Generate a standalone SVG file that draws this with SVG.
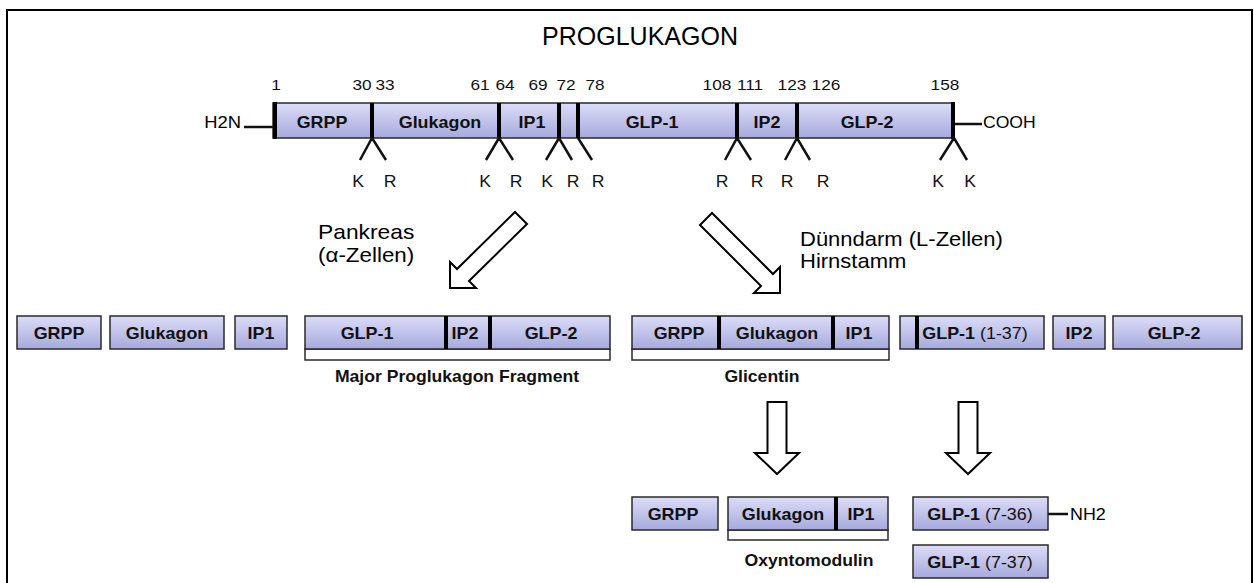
<svg xmlns="http://www.w3.org/2000/svg" width="1254" height="583" viewBox="0 0 1254 583">
<defs>
<linearGradient id="g" x1="0" y1="0" x2="0" y2="1">
<stop offset="0" stop-color="#dcdcf8"/>
<stop offset="1" stop-color="#a6aadc"/>
</linearGradient>
<style>
.t{font-family:"Liberation Sans",Arial,sans-serif;fill:#000}
.b{font-family:"Liberation Sans",Arial,sans-serif;font-weight:bold;font-size:16px;text-anchor:middle;fill:#111}
.n{font-family:"Liberation Sans",Arial,sans-serif;font-size:15px;text-anchor:middle;fill:#111}
.k{font-family:"Liberation Sans",Arial,sans-serif;font-size:16px;text-anchor:middle;fill:#111}
.box{fill:url(#g);stroke:#2a2a2a;stroke-width:1.5}
.br{fill:#fff;stroke:#2a2a2a;stroke-width:1.5}
.dv{stroke:#000;stroke-width:4}
.ln{stroke:#111;stroke-width:2.5;fill:none}
.arr{fill:#fff;stroke:#000;stroke-width:2;stroke-linejoin:miter}
.nw{font-weight:normal}
</style>
</defs>
<rect width="1254" height="583" fill="#fff"/>
<path d="M7 585V10H1252V585" fill="none" stroke="#000" stroke-width="2"/>
<text class="t" x="640" y="45" font-size="25" text-anchor="middle">PROGLUKAGON</text>

<g id="proglukagon">
<line class="ln" x1="244" y1="127" x2="273" y2="127" stroke-width="2"/>
<line class="ln" x1="955" y1="124" x2="982" y2="124" stroke-width="2"/>
<text class="t" font-size="16" text-anchor="end" transform="translate(241 128) scale(1.15 1)">H2N</text>
<text class="t" font-size="16" transform="translate(983 128) scale(1.1 1)">COOH</text>
<rect class="box" x="273" y="103" width="681" height="35"/>
<line class="dv" x1="275" y1="102" x2="275" y2="139"/>
<line class="dv" x1="953" y1="102" x2="953" y2="139"/>
<line class="dv" x1="372" y1="103" x2="372" y2="138"/>
<line class="dv" x1="499" y1="103" x2="499" y2="138"/>
<line class="dv" x1="559" y1="103" x2="559" y2="138"/>
<line class="dv" x1="578" y1="103" x2="578" y2="138" stroke-width="2"/>
<line class="dv" x1="737" y1="103" x2="737" y2="138"/>
<line class="dv" x1="797" y1="103" x2="797" y2="138"/>
<text class="b" transform="translate(322 128) scale(1.12 1)">GRPP</text>
<text class="b" transform="translate(440 128) scale(1.12 1)">Glukagon</text>
<text class="b" transform="translate(532 128) scale(1.12 1)">IP1</text>
<text class="b" transform="translate(652 128) scale(1.12 1)">GLP-1</text>
<text class="b" transform="translate(767 128) scale(1.12 1)">IP2</text>
<text class="b" transform="translate(867 128) scale(1.12 1)">GLP-2</text>
<g>
<text class="n" transform="translate(276 90) scale(1.15 1)">1</text>
<text class="n" transform="translate(362 90) scale(1.15 1)">30</text>
<text class="n" transform="translate(385 90) scale(1.15 1)">33</text>
<text class="n" transform="translate(480 90) scale(1.15 1)">61</text>
<text class="n" transform="translate(505 90) scale(1.15 1)">64</text>
<text class="n" transform="translate(538 90) scale(1.15 1)">69</text>
<text class="n" transform="translate(566 90) scale(1.15 1)">72</text>
<text class="n" transform="translate(595 90) scale(1.15 1)">78</text>
<text class="n" transform="translate(717 90) scale(1.15 1)">108</text>
<text class="n" transform="translate(750 90) scale(1.15 1)">111</text>
<text class="n" transform="translate(792 90) scale(1.15 1)">123</text>
<text class="n" transform="translate(826 90) scale(1.15 1)">126</text>
<text class="n" transform="translate(945 90) scale(1.15 1)">158</text>
</g>
</g>

<g id="cleavage-sites">
<path class="ln" d="M360 160L372 138L386 160M486 160L499 138L513 160M546 160L559 138L572 160M578 138L592 160M725 160L737 138L751 160M785 160L797 138L810 160M940 160L954 138L967 160"/>
<g>
<text class="k" transform="translate(358 187) scale(1.1 1)">K</text>
<text class="k" transform="translate(390 187) scale(1.1 1)">R</text>
<text class="k" transform="translate(485 187) scale(1.1 1)">K</text>
<text class="k" transform="translate(516 187) scale(1.1 1)">R</text>
<text class="k" transform="translate(547 187) scale(1.1 1)">K</text>
<text class="k" transform="translate(573 187) scale(1.1 1)">R</text>
<text class="k" transform="translate(598 187) scale(1.1 1)">R</text>
<text class="k" transform="translate(722 187) scale(1.1 1)">R</text>
<text class="k" transform="translate(757 187) scale(1.1 1)">R</text>
<text class="k" transform="translate(787 187) scale(1.1 1)">R</text>
<text class="k" transform="translate(823 187) scale(1.1 1)">R</text>
<text class="k" transform="translate(938 187) scale(1.1 1)">K</text>
<text class="k" transform="translate(970 187) scale(1.1 1)">K</text>
</g>
</g>

<g id="connectors">
<polygon class="arr" points="450,288 450,262 457,269 515,212 527,224 469,281 476,288"/>
<polygon class="arr" points="780,293 780,267 773,274 712,213 700,225 761,286 754,293"/>
<polygon class="arr" points="767.5,402 786.5,402 786.5,453 799,453 777,474 755,453 767.5,453"/>
<polygon class="arr" points="958.5,402 977.5,402 977.5,453 990,453 968,474 946,453 958.5,453"/>
</g>

<g id="route-labels">
<text class="t" font-size="20" transform="translate(318 239) scale(1.14 1)">Pankreas</text>
<text class="t" font-size="20" transform="translate(318 262) scale(1.12 1)">(α-Zellen)</text>
<text class="t" font-size="20" transform="translate(800 246) scale(1.1 1)">Dünndarm (L-Zellen)</text>
<text class="t" font-size="20" transform="translate(800 268) scale(1.1 1)">Hirnstamm</text>
</g>

<g id="p-grpp">
<rect class="box" x="17" y="316" width="84" height="33"/>
<text class="b" transform="translate(59 339) scale(1.12 1)">GRPP</text>
</g>
<g id="p-glukagon">
<rect class="box" x="110" y="316" width="114" height="33"/>
<text class="b" transform="translate(167 339) scale(1.12 1)">Glukagon</text>
</g>
<g id="p-ip1">
<rect class="box" x="235" y="316" width="52" height="33"/>
<text class="b" transform="translate(261 339) scale(1.12 1)">IP1</text>
</g>
<g id="mpgf">
<rect class="br" x="305" y="349" width="305" height="11"/>
<rect class="box" x="305" y="316" width="305" height="33"/>
<line class="dv" x1="446" y1="316" x2="446" y2="349" stroke-width="3.5"/>
<line class="dv" x1="490" y1="316" x2="490" y2="349" stroke-width="3.5"/>
<text class="b" transform="translate(367 339) scale(1.12 1)">GLP-1</text>
<text class="b" transform="translate(465 339) scale(1.12 1)">IP2</text>
<text class="b" transform="translate(551 339) scale(1.12 1)">GLP-2</text>
<text class="b" transform="translate(457 382) scale(1.1 1)">Major Proglukagon Fragment</text>
</g>
<g id="glicentin">
<rect class="br" x="632" y="349" width="257" height="11"/>
<rect class="box" x="632" y="316" width="257" height="33"/>
<line class="dv" x1="719" y1="316" x2="719" y2="349" stroke-width="3.5"/>
<line class="dv" x1="833" y1="316" x2="833" y2="349" stroke-width="3.5"/>
<text class="b" transform="translate(679 339) scale(1.12 1)">GRPP</text>
<text class="b" transform="translate(777 339) scale(1.12 1)">Glukagon</text>
<text class="b" transform="translate(859 339) scale(1.12 1)">IP1</text>
<text class="b" transform="translate(762 382) scale(1.1 1)">Glicentin</text>
</g>
<g id="glp1-1-37">
<rect class="box" x="900" y="316" width="144" height="33"/>
<line class="dv" x1="917" y1="316" x2="917" y2="349" stroke-width="3.5"/>
<text class="b" transform="translate(975 339) scale(1.12 1)">GLP-1 <tspan class="nw">(1-37)</tspan></text>
</g>
<g id="p-ip2">
<rect class="box" x="1053" y="316" width="52" height="33"/>
<text class="b" transform="translate(1079 339) scale(1.12 1)">IP2</text>
</g>
<g id="p-glp2">
<rect class="box" x="1113" y="316" width="129" height="33"/>
<text class="b" transform="translate(1174 339) scale(1.12 1)">GLP-2</text>
</g>

<g id="o-grpp">
<rect class="box" x="632" y="497" width="86" height="33"/>
<text class="b" transform="translate(673 520) scale(1.12 1)">GRPP</text>
</g>
<g id="oxyntomodulin">
<rect class="br" x="728" y="530" width="160" height="10"/>
<rect class="box" x="728" y="497" width="160" height="33"/>
<line class="dv" x1="836" y1="497" x2="836" y2="530" stroke-width="3.5"/>
<text class="b" transform="translate(783 520) scale(1.12 1)">Glukagon</text>
<text class="b" transform="translate(861 520) scale(1.12 1)">IP1</text>
<text class="b" transform="translate(809 566) scale(1.1 1)">Oxyntomodulin</text>
</g>
<g id="glp1-7-36">
<line class="ln" x1="1048" y1="514" x2="1068" y2="514" stroke-width="2"/>
<rect class="box" x="913" y="497" width="135" height="33"/>
<text class="b" transform="translate(980 520) scale(1.12 1)">GLP-1 <tspan class="nw">(7-36)</tspan></text>
<text class="t" font-size="16" transform="translate(1070 520) scale(1.12 1)">NH2</text>
</g>
<g id="glp1-7-37">
<rect class="box" x="913" y="545" width="135" height="33"/>
<text class="b" transform="translate(980 568) scale(1.12 1)">GLP-1 <tspan class="nw">(7-37)</tspan></text>
</g>
</svg>
